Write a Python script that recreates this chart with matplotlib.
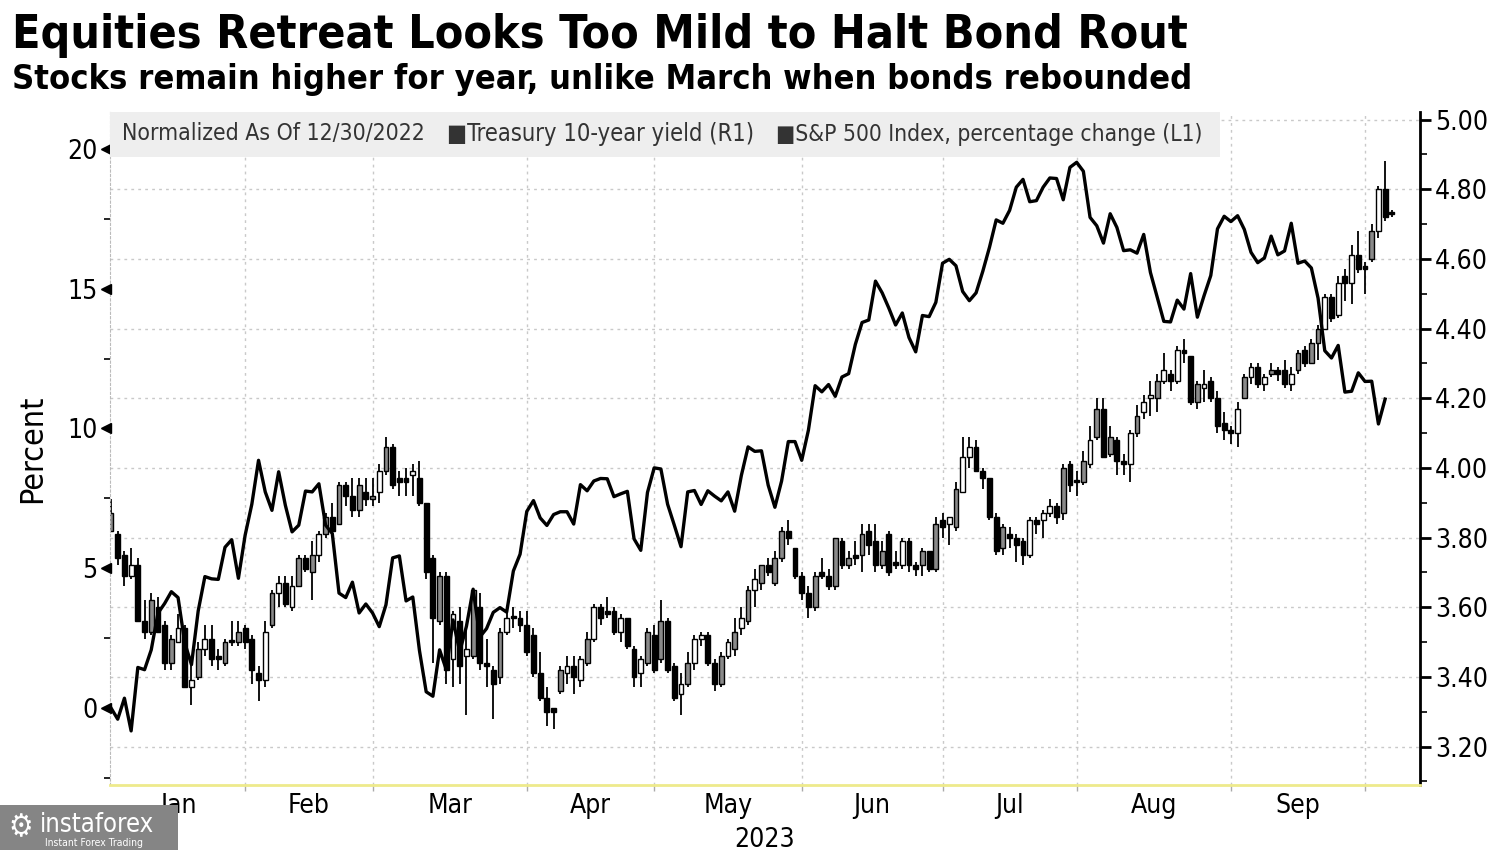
import numpy as np
import pandas as pd
import matplotlib
matplotlib.use("Agg")
import matplotlib.pyplot as plt
import matplotlib.transforms as mtransforms
from matplotlib.patches import Rectangle

plt.rcParams["font.family"] = "DejaVu Sans"
plt.rcParams["font.stretch"] = "condensed"

TITLE = "Equities Retreat Looks Too Mild to Halt Bond Rout"
SUBTITLE = "Stocks remain higher for year, unlike March when bonds rebounded"
LEGEND_NOTE = "Normalized As Of 12/30/2022"
LEGEND_YIELD = "\u25a0Treasury 10-year yield (R1)"
LEGEND_SPX = "\u25a0S&P 500 Index, percentage change (L1)"
MONTHS = ["Jan", "Feb", "Mar", "Apr", "May", "Jun", "Jul", "Aug", "Sep"]
YEAR = "2023"

# trading calendar (NYSE), 12/30/2022 .. 10/05/2023
HOLIDAYS = ["2023-01-02", "2023-01-16", "2023-02-20", "2023-04-07",
            "2023-05-29", "2023-06-19", "2023-07-04", "2023-09-04"]

# S&P 500, % change vs 12/30/2022 (left axis)
SPX_PCT = [
    0.00, -0.40, 0.35, -0.82, 1.45, 1.37, 2.08, 3.39, 3.74, 4.16, 3.95, 2.33, 1.55, 3.47, 4.70, 4.62, 4.60, 5.75, 6.02, 4.64, 6.18,
    7.29, 8.86, 7.73, 7.07, 8.45, 7.25, 6.30, 6.54, 7.76, 7.73, 8.02, 6.54, 6.24, 4.11, 3.95, 4.50, 3.40, 3.72, 3.40,
    2.91, 3.69, 5.37, 5.44, 3.83, 3.97, 2.05, 0.58, 0.42, 2.08, 1.37, 3.15, 2.01, 2.92, 4.25, 2.54, 2.84, 3.42, 3.59, 3.43, 4.90, 5.50, 7.03,
    7.42, 6.80, 6.53, 6.92, 7.02, 7.02, 6.58, 7.99, 7.77, 8.12, 8.21, 8.20, 7.56, 7.66, 7.75, 6.05, 5.64, 7.71, 8.59,
    8.55, 7.29, 6.54, 5.77, 7.73, 7.78, 7.28, 7.77, 7.58, 7.41, 7.73, 7.04, 8.32, 9.34, 9.18, 9.20, 7.97, 7.18, 8.12, 9.53, 9.53, 8.86,
    9.94, 11.53, 11.31, 11.57, 11.15, 11.84, 11.96, 13.01, 13.79, 13.88, 15.27, 14.85, 14.30, 13.70, 14.13, 13.25, 12.74, 14.04, 14.00, 14.51, 15.91,
    16.05, 15.82, 14.90, 14.57, 14.85, 15.62, 16.48, 17.46, 17.34, 17.80, 18.63, 18.91, 18.11, 18.15, 18.63, 18.96, 18.94, 18.18, 19.34, 19.52,
    19.20, 17.55, 17.25, 16.63, 17.68, 17.19, 16.36, 16.39, 16.27, 16.94, 15.58, 14.71, 13.83, 13.81, 14.59, 14.27, 15.54, 13.98, 14.75, 15.47, 17.14, 17.59, 17.40,
    17.61, 17.12, 16.30, 15.93, 16.10, 16.88, 16.21, 16.35, 17.34, 15.91, 15.99, 15.74, 14.66, 12.78, 12.52, 12.97, 11.30, 11.33, 11.99, 11.68,
    11.69, 10.16, 11.05,
]

# Treasury 10-year yield daily candles (right axis)
Y_OPEN = [
    3.82, 3.81, 3.75, 3.69, 3.72, 3.56, 3.53, 3.60, 3.55, 3.44, 3.50, 3.54, 3.37, 3.40, 3.48, 3.51, 3.46, 3.44, 3.50, 3.50, 3.54,
    3.51, 3.41, 3.39, 3.55, 3.64, 3.67, 3.60, 3.66, 3.74, 3.70, 3.75, 3.81, 3.86, 3.84, 3.95, 3.92, 3.88, 3.93, 3.91,
    3.93, 3.99, 4.06, 3.97, 3.96, 3.98, 3.97, 3.90, 3.74, 3.56, 3.69, 3.45, 3.56, 3.46, 3.46, 3.60, 3.44, 3.42, 3.40, 3.53, 3.57, 3.57, 3.55,
    3.52, 3.41, 3.34, 3.31, 3.36, 3.41, 3.43, 3.39, 3.44, 3.51, 3.60, 3.58, 3.59, 3.53, 3.57, 3.48, 3.41, 3.44, 3.52,
    3.45, 3.56, 3.43, 3.35, 3.38, 3.44, 3.51, 3.52, 3.44, 3.38, 3.46, 3.48, 3.54, 3.56, 3.65, 3.67, 3.72, 3.67, 3.74, 3.82, 3.77, 3.69,
    3.64, 3.60, 3.70, 3.69, 3.66, 3.79, 3.72, 3.74, 3.75, 3.82, 3.79, 3.72, 3.81, 3.73, 3.72, 3.79, 3.72, 3.72, 3.76, 3.71, 3.85,
    3.84, 3.83, 3.93, 4.03, 4.06, 3.99, 3.97, 3.86, 3.77, 3.81, 3.80, 3.79, 3.75, 3.85, 3.85, 3.87, 3.89, 3.87, 4.01, 3.96,
    3.96, 4.01, 4.09, 4.17, 4.04, 4.08, 4.02, 4.01, 4.10, 4.16, 4.20, 4.20, 4.25, 4.27, 4.25, 4.34, 4.32, 4.19, 4.23, 4.25, 4.20, 4.13, 4.11,
    4.10, 4.20, 4.26, 4.29, 4.24, 4.27, 4.28, 4.28, 4.24, 4.28, 4.34, 4.30, 4.36, 4.40, 4.49, 4.44, 4.55, 4.53, 4.61, 4.58,
    4.60, 4.68, 4.80, 4.73,
]
Y_HIGH = [
    3.91, 3.82, 3.76, 3.77, 3.74, 3.62, 3.64, 3.63, 3.56, 3.52, 3.58, 3.55, 3.45, 3.50, 3.55, 3.55, 3.48, 3.51, 3.56, 3.56, 3.55,
    3.52, 3.43, 3.56, 3.65, 3.69, 3.69, 3.69, 3.75, 3.75, 3.79, 3.82, 3.87, 3.90, 3.96, 3.96, 3.97, 3.97, 3.97, 3.97,
    4.01, 4.09, 4.07, 3.99, 4.00, 4.01, 4.02, 3.90, 3.75, 3.70, 3.70, 3.59, 3.60, 3.55, 3.65, 3.64, 3.51, 3.43, 3.54, 3.60, 3.60, 3.59, 3.59,
    3.54, 3.47, 3.37, 3.31, 3.43, 3.46, 3.46, 3.46, 3.53, 3.61, 3.61, 3.63, 3.60, 3.58, 3.57, 3.49, 3.46, 3.54, 3.55,
    3.62, 3.57, 3.44, 3.41, 3.47, 3.52, 3.53, 3.53, 3.45, 3.47, 3.51, 3.57, 3.60, 3.66, 3.71, 3.72, 3.74, 3.76, 3.83, 3.85, 3.77, 3.70,
    3.66, 3.70, 3.74, 3.71, 3.80, 3.80, 3.76, 3.79, 3.84, 3.84, 3.84, 3.79, 3.82, 3.76, 3.80, 3.80, 3.73, 3.77, 3.76, 3.86, 3.87,
    3.86, 3.96, 4.09, 4.09, 4.08, 4.00, 3.97, 3.87, 3.84, 3.83, 3.81, 3.80, 3.86, 3.86, 3.88, 3.91, 3.90, 4.01, 4.02, 3.99,
    4.05, 4.12, 4.20, 4.20, 4.12, 4.09, 4.04, 4.11, 4.18, 4.21, 4.25, 4.27, 4.33, 4.28, 4.35, 4.37, 4.32, 4.25, 4.28, 4.26, 4.22, 4.16, 4.12,
    4.19, 4.27, 4.30, 4.30, 4.27, 4.30, 4.29, 4.31, 4.29, 4.34, 4.35, 4.37, 4.41, 4.50, 4.50, 4.55, 4.57, 4.64, 4.68, 4.59,
    4.70, 4.81, 4.88, 4.74,
]
Y_LOW = [
    3.82, 3.72, 3.66, 3.68, 3.56, 3.51, 3.52, 3.53, 3.42, 3.42, 3.50, 3.37, 3.32, 3.39, 3.46, 3.43, 3.42, 3.43, 3.49, 3.49, 3.48,
    3.38, 3.33, 3.37, 3.54, 3.60, 3.60, 3.59, 3.66, 3.70, 3.62, 3.73, 3.80, 3.81, 3.84, 3.89, 3.86, 3.86, 3.89, 3.89,
    3.90, 3.98, 3.94, 3.92, 3.92, 3.92, 3.89, 3.68, 3.44, 3.55, 3.38, 3.37, 3.38, 3.29, 3.45, 3.42, 3.37, 3.28, 3.38, 3.52, 3.54, 3.53, 3.46,
    3.40, 3.33, 3.26, 3.25, 3.35, 3.38, 3.35, 3.37, 3.43, 3.50, 3.55, 3.57, 3.52, 3.50, 3.48, 3.37, 3.37, 3.43, 3.41,
    3.44, 3.41, 3.33, 3.29, 3.37, 3.42, 3.49, 3.43, 3.36, 3.37, 3.45, 3.46, 3.52, 3.55, 3.60, 3.65, 3.69, 3.66, 3.73, 3.78, 3.68, 3.62,
    3.57, 3.59, 3.68, 3.65, 3.65, 3.71, 3.71, 3.72, 3.70, 3.75, 3.70, 3.71, 3.69, 3.71, 3.71, 3.70, 3.69, 3.69, 3.70, 3.70, 3.80,
    3.78, 3.82, 3.93, 4.00, 3.99, 3.94, 3.85, 3.75, 3.75, 3.77, 3.73, 3.72, 3.74, 3.81, 3.80, 3.86, 3.84, 3.85, 3.93, 3.92,
    3.95, 4.00, 4.08, 4.03, 4.03, 3.98, 3.98, 3.96, 4.09, 4.14, 4.15, 4.16, 4.24, 4.22, 4.24, 4.30, 4.18, 4.17, 4.19, 4.19, 4.10, 4.08, 4.07,
    4.06, 4.20, 4.24, 4.23, 4.22, 4.26, 4.25, 4.23, 4.22, 4.27, 4.29, 4.30, 4.31, 4.40, 4.42, 4.43, 4.48, 4.47, 4.56, 4.50,
    4.59, 4.66, 4.71, 4.72,
]
Y_CLOSE = [
    3.87, 3.74, 3.69, 3.72, 3.56, 3.53, 3.62, 3.53, 3.44, 3.51, 3.54, 3.37, 3.39, 3.48, 3.51, 3.45, 3.45, 3.50, 3.50, 3.53, 3.50,
    3.42, 3.39, 3.53, 3.64, 3.67, 3.61, 3.66, 3.74, 3.71, 3.75, 3.81, 3.86, 3.82, 3.95, 3.92, 3.88, 3.95, 3.91, 3.92,
    3.99, 4.06, 3.95, 3.96, 3.97, 3.99, 3.90, 3.70, 3.57, 3.69, 3.42, 3.58, 3.43, 3.48, 3.65, 3.44, 3.43, 3.38, 3.53, 3.57, 3.57, 3.55, 3.47,
    3.41, 3.34, 3.30, 3.30, 3.42, 3.43, 3.40, 3.45, 3.51, 3.60, 3.57, 3.59, 3.53, 3.57, 3.49, 3.40, 3.45, 3.53, 3.42,
    3.56, 3.42, 3.34, 3.38, 3.44, 3.51, 3.52, 3.44, 3.38, 3.46, 3.50, 3.53, 3.57, 3.65, 3.68, 3.72, 3.70, 3.74, 3.82, 3.80, 3.69, 3.64,
    3.60, 3.69, 3.69, 3.66, 3.80, 3.72, 3.74, 3.75, 3.81, 3.78, 3.72, 3.76, 3.70, 3.72, 3.79, 3.72, 3.71, 3.76, 3.71, 3.84, 3.83,
    3.86, 3.94, 4.03, 4.06, 3.99, 3.97, 3.86, 3.76, 3.83, 3.80, 3.78, 3.75, 3.85, 3.84, 3.87, 3.89, 3.86, 4.00, 3.95, 3.96,
    4.02, 4.08, 4.17, 4.03, 4.09, 4.02, 4.01, 4.10, 4.15, 4.19, 4.21, 4.25, 4.28, 4.25, 4.34, 4.33, 4.19, 4.24, 4.24, 4.20, 4.12, 4.11, 4.10,
    4.17, 4.26, 4.29, 4.24, 4.26, 4.28, 4.27, 4.24, 4.27, 4.33, 4.30, 4.36, 4.40, 4.49, 4.43, 4.53, 4.53, 4.61, 4.57, 4.57,
    4.68, 4.80, 4.72, 4.73,
]
# body shade of each candle: b = black, g = gray, w = hollow
Y_FILL = [
    "gbbwbbgbbgwbwgwbbgbgb",
    "bbwgwbwgbgwgbgbbgbg",
    "wgbbbwbbbgbwbwgbbbgwbbb",
    "bbbbgwbwgwbbbwbbwgb",
    "gbbwgwwbbgwgwgwgbggbbb",
    "bgbbgbgbgbbgbbwbbgbgb",
    "wgwwbbbbgbbbwbwwbgbb",
    "gwgbgbbwgwwgwbwbbgwbbbb",
    "wgwbwgbbwgbggwbwbwbb",
    "gwbb",
]
FILL_COLORS = {"b": "black", "g": "#8a8a8a", "w": "white"}

dates = pd.bdate_range("2022-12-30", "2023-10-05")
dates = dates[~dates.isin(pd.to_datetime(HOLIDAYS))]
dates = dates[:len(Y_OPEN)]

# last trading day of each month -> gridlines; label centred in the month
month_end = [int(np.where(dates.month == m)[0][-1]) for m in range(1, 10)]
bounds = [0] + month_end
label_pos = [(bounds[k] + bounds[k + 1]) / 2 for k in range(len(MONTHS))]

W, H = 1500, 850
fig = plt.figure(figsize=(15, 8.5), dpi=100)
ax = fig.add_axes([110 / W, 65 / H, 1310 / W, 673 / H])
ax2 = ax.twinx()
ax.set_zorder(ax2.get_zorder() + 1)
ax.patch.set_visible(False)

GRID = dict(color="#c9c9c9", lw=1.0, ls=(0, (2, 3)), zorder=0)

# candles (yield, right axis)
x = np.arange(len(Y_OPEN))
o, hi, lo, c = map(np.array, (Y_OPEN, Y_HIGH, Y_LOW, Y_CLOSE))
fills = [FILL_COLORS[f] for f in "".join(Y_FILL)]
ax2.vlines(x, lo, hi, color="black", lw=1.3, zorder=2)
ax2.bar(x, np.maximum(np.abs(c - o), 0.005), bottom=np.minimum(o, c), width=0.72,
        color=fills, edgecolor="black", linewidth=1.0, zorder=3)

yt = np.round(np.arange(3.2, 5.001, 0.2), 2)
for v in yt:
    ax2.axhline(v, **GRID)
for m in month_end:
    ax2.axvline(m, **GRID)

ax2.set_ylim(3.0895, 5.022)
ax2.set_yticks(yt)
ax2.set_yticklabels([f"{v:.2f}" for v in yt])
ax2.set_yticks(np.round(np.arange(3.1, 5.0, 0.2), 2), minor=True)
ax2.tick_params(axis="y", which="major", length=8, width=2, labelsize=19, pad=3, colors="black")
ax2.tick_params(axis="y", which="minor", length=5, width=1.2)
for s in ("top", "left", "bottom"):
    ax2.spines[s].set_visible(False)
ax2.spines["right"].set_linewidth(2)

# S&P 500 line (left axis)
ax.plot(np.arange(len(SPX_PCT)), SPX_PCT, color="black", lw=2.4, zorder=5)
ax.set_xlim(-0.15, 195.2)
ax.set_ylim(-2.755, 21.32)
ax.set_yticks([0, 5, 10, 15, 20])
ax.set_yticks([-2.5, 2.5, 7.5, 12.5, 17.5], minor=True)
ax.tick_params(axis="y", which="major", length=5, width=1.5, labelsize=19, pad=4)
ax.tick_params(axis="y", which="minor", length=4, width=1.2)
trans = mtransforms.blended_transform_factory(ax.transAxes, ax.transData)
ax.plot([-0.003] * 5, [0, 5, 10, 15, 20], ls="none", marker="<", ms=7, color="black",
        transform=trans, clip_on=False, zorder=6)
ax.set_ylabel("Percent", fontsize=23, labelpad=14)

ax.set_xticks(month_end)
ax.set_xticklabels([])
ax.set_xticks(label_pos, minor=True)
ax.set_xticklabels(MONTHS, minor=True)
ax.tick_params(axis="x", which="major", length=4, width=1, color="#aaaaaa")
ax.tick_params(axis="x", which="minor", length=0, labelsize=19, pad=6)

ax.spines["top"].set_visible(False)
ax.spines["right"].set_visible(False)
ax.spines["left"].set_color("#bbbbbb")
ax.spines["left"].set_linestyle((0, (2, 2)))
ax.spines["bottom"].set_color("#eeea8c")
ax.spines["bottom"].set_linewidth(2)

# legend strip
ax.add_patch(Rectangle((0, 1 - 45 / 673), 1110 / 1310, 45 / 673, transform=ax.transAxes,
                       facecolor="#eeeeee", edgecolor="none", zorder=7, clip_on=False))
ly = 1 - 22 / 673
leg = [
    ax.text(12 / 1310, ly, LEGEND_NOTE, transform=ax.transAxes, va="center", ha="left",
            fontsize=14, color="#333333", zorder=8),
    ax.text(337 / 1310, ly, LEGEND_YIELD, transform=ax.transAxes, va="center", ha="left",
            fontsize=14, color="#333333", zorder=8),
    ax.text(666 / 1310, ly, LEGEND_SPX, transform=ax.transAxes, va="center", ha="left",
            fontsize=14, color="#333333", zorder=8),
]

# titles
t1 = fig.text(12 / W, 1 - 48 / H, TITLE, fontsize=30, fontweight="bold", va="baseline", ha="left")
t2 = fig.text(12 / W, 1 - 89 / H, SUBTITLE, fontsize=22, fontweight="bold", va="baseline", ha="left")
fig.text(765 / W, 1 - 847 / H, YEAR, fontsize=19, ha="center", va="baseline")

# watermark
fig.patches.append(Rectangle((0, 0), 178 / W, 45 / H, transform=fig.transFigure,
                             facecolor="#858585", edgecolor="none", zorder=10))
fig.text(8 / W, 1 - 836 / H, "\u2699", fontsize=22, color="white", zorder=11)
wm = fig.text(40 / W, 1 - 832 / H, "instaforex", fontsize=19, color="white", zorder=11)
fig.text(45 / W, 1 - 846 / H, "Instant Forex Trading", fontsize=7.5, color="white", zorder=11)

# fit text widths to the reference
r = fig.canvas.get_renderer()
for t, target in [(t1, 1175), (t2, 1173), (leg[0], 304), (leg[1], 310), (leg[2], 429), (wm, 114)]:
    w = t.get_window_extent(r).width
    t.set_fontsize(t.get_fontsize() * target / w)

fig.savefig("out.png", dpi=100)
